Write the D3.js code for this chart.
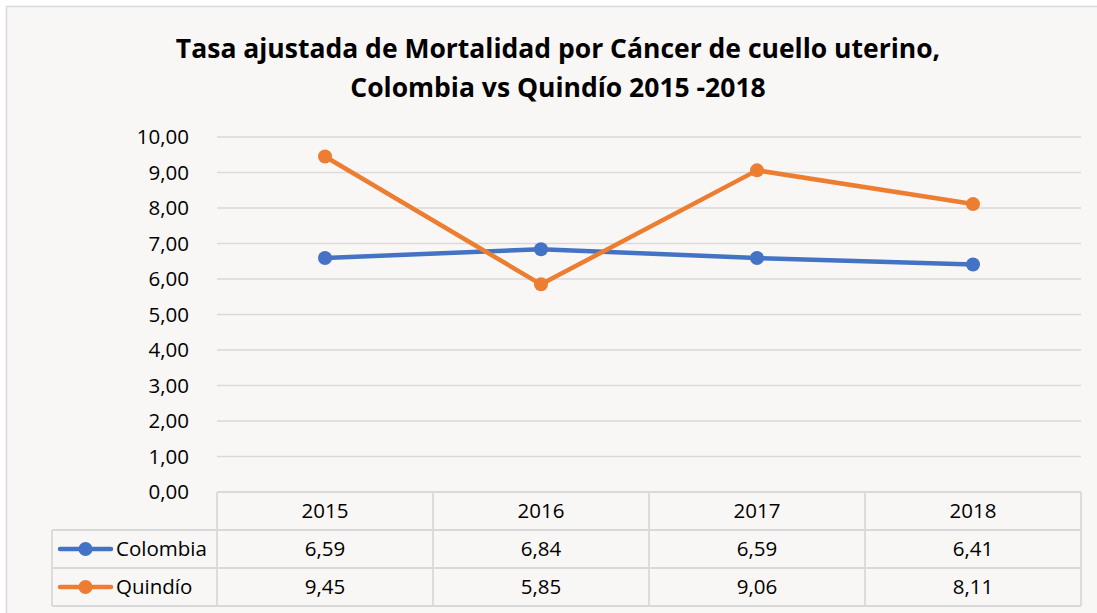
<!DOCTYPE html>
<html>
<head>
<meta charset="utf-8">
<script src="https://cdn.jsdelivr.net/npm/d3@7"></script>
<style>
  body { margin: 0; background: #fff; }
  svg { display: block; font-family: "Open Sans", sans-serif; }
</style>
</head>
<body>
<svg width="1097" height="613"></svg>
<script>
var years = ["2015", "2016", "2017", "2018"];
var colombia = [6.59, 6.84, 6.59, 6.41];
var quindio = [9.45, 5.85, 9.06, 8.11];
var seriesNames = ["Colombia", "Quindío"];
var seriesColors = ["#4472C4", "#ED7D31"];
var yTicks = [0, 1, 2, 3, 4, 5, 6, 7, 8, 9, 10];
var titleLines = ["Tasa ajustada de Mortalidad por Cáncer de cuello uterino,",
                  "Colombia vs Quindío 2015 -2018"];

var series = [colombia, quindio];

var svg = d3.select("svg"),
    width = +svg.attr("width"),
    height = +svg.attr("height");

var locale = d3.formatLocale({decimal: ",", thousands: ".", grouping: [3], currency: ["$", ""]});
var fmt = locale.format(".2f");

var plotLeft = 217, plotRight = 1081, plotTop = 137, plotBottom = 492;
var rowH = 38;
var tableLeft = 52;
var fontSize = "20.5px";

var x = d3.scaleBand().domain(years).range([plotLeft, plotRight]);
var y = d3.scaleLinear().domain([0, 10]).range([plotBottom, plotTop]);

// background + outer frame
svg.append("rect")
    .attr("width", width).attr("height", height)
    .attr("fill", "#ffffff");
svg.append("rect")
    .attr("x", 6.5).attr("y", 6.5)
    .attr("width", width + 10).attr("height", height + 10)
    .attr("fill", "#f8f7f5")
    .attr("stroke", "#d9d9d9")
    .attr("stroke-width", 1.5);

// title
svg.append("g").selectAll("text")
  .data(titleLines)
  .enter().append("text")
    .attr("x", 558)
    .attr("y", function(d, i) { return 58 + i * 39; })
    .attr("text-anchor", "middle")
    .style("font-size", "26.5px")
    .style("font-weight", "bold")
    .style("fill", "#000")
    .text(function(d) { return d; });

// gridlines
svg.append("g").selectAll("line")
  .data(yTicks.slice(1))
  .enter().append("line")
    .attr("x1", plotLeft).attr("x2", plotRight)
    .attr("y1", function(d) { return y(d); })
    .attr("y2", function(d) { return y(d); })
    .attr("stroke", "#d9d9d9")
    .attr("stroke-width", 1.5);

// y axis labels
var yAxis = svg.append("g")
    .attr("transform", "translate(" + 189 + ",0)")
    .call(d3.axisLeft(y).tickValues(yTicks).tickSize(0).tickPadding(0).tickFormat(fmt));
yAxis.select(".domain").remove();
yAxis.selectAll("text")
    .style("font-family", "'Open Sans', sans-serif")
    .style("font-size", fontSize)
    .style("fill", "#000");

// table grid
var tbl = svg.append("g")
    .attr("fill", "none")
    .attr("stroke", "#d9d9d9")
    .attr("stroke-width", 1.8);
tbl.append("line").attr("x1", plotLeft).attr("x2", plotRight).attr("y1", plotBottom).attr("y2", plotBottom);
[1, 2, 3].forEach(function(r) {
  tbl.append("line")
      .attr("x1", tableLeft).attr("x2", plotRight)
      .attr("y1", plotBottom + r * rowH).attr("y2", plotBottom + r * rowH);
});
tbl.append("line").attr("x1", tableLeft).attr("x2", tableLeft)
    .attr("y1", plotBottom + rowH).attr("y2", plotBottom + 3 * rowH);
years.forEach(function(yr) {
  tbl.append("line").attr("x1", x(yr)).attr("x2", x(yr))
      .attr("y1", plotBottom).attr("y2", plotBottom + 3 * rowH);
});
tbl.append("line").attr("x1", plotRight).attr("x2", plotRight)
    .attr("y1", plotBottom).attr("y2", plotBottom + 3 * rowH);

// header (years)
svg.append("g").selectAll("text")
  .data(years)
  .enter().append("text")
    .attr("x", function(d) { return x(d) + x.bandwidth() / 2; })
    .attr("y", plotBottom + rowH / 2)
    .attr("dy", "0.35em")
    .attr("text-anchor", "middle")
    .style("font-size", fontSize)
    .text(function(d) { return d; });

// value rows + legend keys
series.forEach(function(vals, s) {
  var rowY = plotBottom + (s + 1) * rowH + rowH / 2;
  svg.append("g").selectAll("text")
    .data(vals)
    .enter().append("text")
      .attr("x", function(d, i) { return x(years[i]) + x.bandwidth() / 2; })
      .attr("y", rowY)
      .attr("dy", "0.35em")
      .attr("text-anchor", "middle")
      .style("font-size", fontSize)
      .text(function(d) { return fmt(d); });

  var key = svg.append("g");
  key.append("line")
      .attr("x1", 60).attr("x2", 111)
      .attr("y1", rowY).attr("y2", rowY)
      .attr("stroke", seriesColors[s])
      .attr("stroke-width", 4.5)
      .attr("stroke-linecap", "round");
  key.append("circle")
      .attr("cx", 85.5).attr("cy", rowY).attr("r", 7)
      .attr("fill", seriesColors[s]);
  key.append("text")
      .attr("x", 116).attr("y", rowY)
      .attr("dy", "0.35em")
      .style("font-size", fontSize)
      .text(seriesNames[s]);
});

// lines + markers
var line = d3.line()
    .x(function(d, i) { return x(years[i]) + x.bandwidth() / 2; })
    .y(function(d) { return y(d); });

series.forEach(function(vals, s) {
  svg.append("path")
      .datum(vals)
      .attr("d", line)
      .attr("fill", "none")
      .attr("stroke", seriesColors[s])
      .attr("stroke-width", 4.5)
      .attr("stroke-linejoin", "round");
  svg.append("g").selectAll("circle")
    .data(vals)
    .enter().append("circle")
      .attr("cx", function(d, i) { return x(years[i]) + x.bandwidth() / 2; })
      .attr("cy", function(d) { return y(d); })
      .attr("r", 7)
      .attr("fill", seriesColors[s]);
});
</script>
</body>
</html>
